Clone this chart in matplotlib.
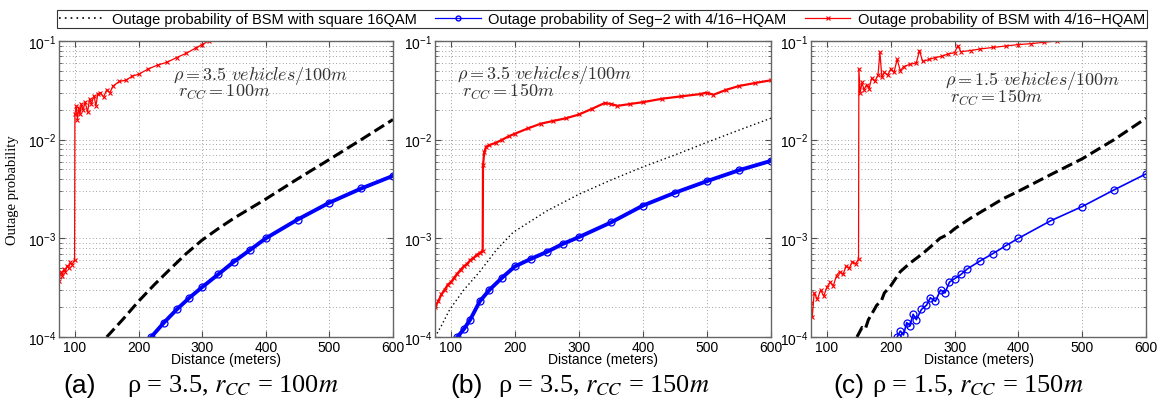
import matplotlib
matplotlib.use("Agg")
import matplotlib.pyplot as plt
from matplotlib.lines import Line2D
from matplotlib.ticker import FixedLocator, LogLocator, NullFormatter

plt.rcParams["font.family"] = ["Liberation Sans", "DejaVu Sans"]

# ---------------- data ----------------
# panel (a): rho = 3.5, r_CC = 100 m
red_a_x = [75, 78, 80, 83, 85, 88, 90, 93, 95, 99.5, 100, 102, 104, 106, 108, 110, 113, 116,
           120, 123, 126, 130, 133, 136, 140, 145, 150, 155, 160, 170, 180, 190, 200, 215,
           230, 245, 260, 275, 290, 300, 310]
red_a_y = [3.7e-4, 4.6e-4, 4.2e-4, 4.9e-4, 4.6e-4, 5.3e-4, 5.0e-4, 5.7e-4, 5.4e-4, 6.0e-4,
           1.8e-2, 2.2e-2, 1.6e-2, 2.1e-2, 1.8e-2, 2.3e-2, 2.0e-2, 2.4e-2, 1.9e-2, 2.6e-2,
           2.3e-2, 2.8e-2, 2.2e-2, 2.9e-2, 3.0e-2, 2.7e-2, 3.2e-2, 3.0e-2, 3.5e-2, 3.9e-2,
           4.0e-2, 4.4e-2, 4.6e-2, 5.2e-2, 5.7e-2, 6.1e-2, 6.8e-2, 7.5e-2, 8.5e-2, 9.2e-2, 1.0e-1]
blk_a_x = [150, 175, 200, 225, 250, 275, 300, 325, 350, 375, 400, 450, 500, 550, 600]
blk_a_y = [1.0e-4, 1.5e-4, 2.3e-4, 3.4e-4, 4.9e-4, 7.0e-4, 9.6e-4, 1.25e-3, 1.6e-3, 2.0e-3,
           2.5e-3, 4.0e-3, 6.3e-3, 1.0e-2, 1.6e-2]
blu_a_x = [220, 240, 260, 280, 300, 325, 350, 375, 400, 450, 500, 550, 600]
blu_a_y = [1.0e-4, 1.4e-4, 1.9e-4, 2.5e-4, 3.2e-4, 4.3e-4, 5.8e-4, 7.6e-4, 1.0e-3,
           1.55e-3, 2.3e-3, 3.2e-3, 4.3e-3]

# panel (b): rho = 3.5, r_CC = 150 m
red_b_x = [75, 80, 85, 90, 95, 100, 105, 110, 115, 120, 125, 130, 135, 140, 145, 149.5,
           150, 152, 155, 160, 170, 180, 190, 200, 220, 240, 260, 280, 300, 320, 340,
           350, 360, 380, 400, 430, 460, 490, 500, 510, 530, 550, 575, 600]
red_b_y = [2.0e-4, 2.3e-4, 2.7e-4, 3.0e-4, 3.4e-4, 3.6e-4, 4.0e-4, 4.4e-4, 4.8e-4, 5.2e-4,
           5.5e-4, 6.0e-4, 6.3e-4, 6.8e-4, 7.1e-4, 7.5e-4, 5.5e-3, 7.5e-3, 8.5e-3, 8.8e-3,
           9.3e-3, 1.0e-2, 1.08e-2, 1.15e-2, 1.3e-2, 1.45e-2, 1.55e-2, 1.65e-2, 1.8e-2,
           2.05e-2, 2.35e-2, 2.3e-2, 2.2e-2, 2.3e-2, 2.4e-2, 2.6e-2, 2.75e-2, 2.9e-2,
           3.0e-2, 2.85e-2, 3.2e-2, 3.5e-2, 3.75e-2, 4.0e-2]
blk_b_x = [75, 85, 98, 120, 145, 170, 197, 250, 300, 350, 400, 450, 500, 550, 600]
blk_b_y = [1.0e-4, 1.3e-4, 1.9e-4, 3.0e-4, 4.6e-4, 7.5e-4, 1.15e-3, 1.9e-3, 2.8e-3,
           3.9e-3, 5.3e-3, 7.0e-3, 9.4e-3, 1.25e-2, 1.65e-2]
blu_b_x = [110, 120, 130, 145, 160, 180, 200, 225, 250, 275, 300, 350, 400, 450, 500, 550, 600]
blu_b_y = [1.0e-4, 1.2e-4, 1.5e-4, 2.3e-4, 3.0e-4, 4.0e-4, 5.2e-4, 6.2e-4, 7.3e-4, 8.8e-4,
           1.03e-3, 1.45e-3, 2.15e-3, 2.9e-3, 3.8e-3, 4.9e-3, 6.1e-3]

# panel (c): rho = 1.5, r_CC = 150 m
red_c_x = [75, 77, 80, 85, 90, 95, 100, 105, 110, 115, 120, 125, 130, 135, 140, 145, 149.5,
           150, 152, 155, 158, 162, 166, 170, 175, 180, 183, 186, 190, 195, 200, 205, 210,
           215, 220, 230, 240, 245, 250, 260, 270, 280, 290, 300, 305, 310, 325, 340, 360,
           380, 400, 420, 440, 460]
red_c_y = [2.2e-4, 1.6e-4, 2.8e-4, 2.4e-4, 3.0e-4, 2.6e-4, 3.2e-4, 3.6e-4, 3.3e-4, 4.2e-4,
           4.6e-4, 4.3e-4, 5.2e-4, 5.0e-4, 5.8e-4, 5.5e-4, 6.2e-4, 5.2e-2, 3.0e-2, 3.8e-2,
           3.2e-2, 3.6e-2, 3.3e-2, 4.2e-2, 3.9e-2, 4.5e-2, 7.7e-2, 4.3e-2, 4.8e-2, 4.5e-2,
           5.2e-2, 4.8e-2, 6.5e-2, 5.0e-2, 5.5e-2, 5.8e-2, 6.0e-2, 8.0e-2, 6.2e-2, 6.5e-2,
           6.8e-2, 7.0e-2, 7.4e-2, 7.6e-2, 9.0e-2, 7.8e-2, 8.0e-2, 8.3e-2, 8.6e-2, 8.9e-2,
           9.2e-2, 9.4e-2, 9.7e-2, 1.0e-1]
blk_c_x = [147, 155, 160, 165, 170, 178, 185, 190, 200, 215, 230, 250, 265, 277, 290, 300,
           325, 350, 375, 400, 450, 500, 550, 600]
blk_c_y = [1.0e-4, 1.25e-4, 1.2e-4, 1.5e-4, 1.7e-4, 2.1e-4, 2.3e-4, 2.8e-4, 3.3e-4, 4.6e-4,
           5.6e-4, 7.0e-4, 8.5e-4, 1.0e-3, 1.1e-3, 1.25e-3, 1.6e-3, 2.0e-3, 2.5e-3, 3.0e-3,
           4.4e-3, 6.4e-3, 1.0e-2, 1.65e-2]
blu_c_x = [210, 215, 220, 225, 230, 235, 240, 248, 256, 262, 270, 278, 285, 292, 300, 310,
           320, 340, 360, 380, 400, 450, 500, 550, 600]
blu_c_y = [1.0e-4, 1.15e-4, 1.05e-4, 1.4e-4, 1.3e-4, 1.7e-4, 1.5e-4, 1.9e-4, 2.1e-4, 2.5e-4,
           2.3e-4, 3.0e-4, 2.8e-4, 3.6e-4, 3.9e-4, 4.3e-4, 4.9e-4, 5.9e-4, 7.0e-4, 8.4e-4,
           1.0e-3, 1.5e-3, 2.1e-3, 3.1e-3, 4.5e-3]

legend_labels = ["Outage probability of BSM with square 16QAM",
                 "Outage probability of Seg\u22122 with 4/16\u2212HQAM",
                 "Outage probability of BSM with 4/16\u2212HQAM"]
x_ticks = [100, 200, 300, 400, 500, 600]
captions = [("(a)", "\u03c1 = 3.5, $r_{CC}$ = 100$m$"),
            ("(b)", "\u03c1 = 3.5, $r_{CC}$ = 150$m$"),
            ("(c)", "\u03c1 = 1.5, $r_{CC}$ = 150$m$")]
notes = ["$\\rho = 3.5\\ vehicles/100m$\n$\\ r_{CC} = 100m$",
         "$\\rho = 3.5\\ vehicles/100m$\n$\\ r_{CC} = 150m$",
         "$\\rho = 1.5\\ vehicles/100m$\n$\\ r_{CC} = 150m$"]

panels = [
    (red_a_x, red_a_y, blk_a_x, blk_a_y, blu_a_x, blu_a_y),
    (red_b_x, red_b_y, blk_b_x, blk_b_y, blu_b_x, blu_b_y),
    (red_c_x, red_c_y, blk_c_x, blk_c_y, blu_c_x, blu_c_y),
]

# ---------------- layout (pixels of a 1164x406 canvas) ----------------
W, H = 1164, 406
fig = plt.figure(figsize=(W / 100, H / 100), dpi=100)
ax_left = [59, 435, 811]
ax_width = [334, 336, 335]
ax_top, ax_bot = 42, 338
note_pos = [(173, 65), (457, 64), (945, 70)]
cap_pos = [(63, 127), (450, 498), (833, 872)]
black_style = ["--", (0, (1, 2)), "--"]
black_lw = [2.2, 1.0, 2.2]
blue_lw = [2.8, 2.8, 1.2]
red_lw = [0.9, 1.6, 0.9]


def fx(px):
    return px / W


def fy(py):
    return 1 - py / H


for i, (rx, ry, kx, ky, bx, by) in enumerate(panels):
    ax = fig.add_axes([fx(ax_left[i]), fy(ax_bot), ax_width[i] / W, (ax_bot - ax_top) / H])
    ax.plot(kx, ky, color="black", linestyle=black_style[i], lw=black_lw[i])
    ax.plot(bx, by, color="blue", lw=blue_lw[i], marker="o", ms=5, mfc="none",
            mec="blue", mew=0.9)
    ax.plot(rx, ry, color="red", lw=red_lw[i], marker="x", ms=3.5, mew=0.8)

    ax.set_yscale("log")
    ax.set_xlim(75, 600)
    ax.set_ylim(1e-4, 1e-1)
    ax.xaxis.set_major_locator(FixedLocator(x_ticks))
    ax.yaxis.set_major_locator(LogLocator(base=10, numticks=10))
    ax.yaxis.set_minor_locator(LogLocator(base=10, subs=range(2, 10), numticks=20))
    ax.yaxis.set_minor_formatter(NullFormatter())
    ax.tick_params(which="both", direction="in", top=True, right=True,
                   labelsize=10, pad=2, color="0.3")
    ax.tick_params(which="major", length=4)
    ax.tick_params(which="minor", length=2)
    ax.grid(True, which="major", axis="x", color="0.5", lw=0.6, linestyle=(0, (1, 3)))
    ax.grid(True, which="both", axis="y", color="0.5", lw=0.6, linestyle=(0, (1, 3)))
    for s in ax.spines.values():
        s.set_color("0.4")
        s.set_linewidth(1.0)
    ax.set_xlabel("Distance (meters)", fontsize=10, labelpad=-1)
    if i == 0:
        ax.set_ylabel("Outage probability", fontsize=10.5, family="Liberation Serif")
        ax.yaxis.set_label_coords((19 - 59) / 334, 0.5)

    # in-plot annotation (two lines in one text)
    nx, ny = note_pos[i]
    fig.text(fx(nx), fy(ny), notes[i], fontsize=13, color="#333333", ha="left",
             va="top", linespacing=0.72, math_fontfamily="cm")

    # caption below panel
    cx1, cx2 = cap_pos[i]
    fig.text(fx(cx1), fy(386), captions[i][0], fontsize=19, ha="left", va="center",
             family="Liberation Sans")
    fig.text(fx(cx2), fy(386), captions[i][1], fontsize=19, ha="left", va="center",
             family="Liberation Serif", math_fontfamily="stix")

handles = [
    Line2D([], [], color="black", linestyle=(0, (1, 2.5)), lw=1.2),
    Line2D([], [], color="blue", lw=0.9, marker="o", ms=3.5, mfc="none"),
    Line2D([], [], color="red", lw=0.9, marker="x", ms=3, mew=0.8),
]
leg = fig.legend(handles, legend_labels, ncol=3, mode="expand", fontsize=10.5,
                 loc="lower left",
                 bbox_to_anchor=(fx(57), fy(29), (1147 - 57) / W, 20 / H),
                 frameon=True, fancybox=False, edgecolor="black", handlelength=3.1,
                 borderaxespad=0, borderpad=0.15, handletextpad=0.5, columnspacing=1.0)
leg.get_frame().set_linewidth(0.8)

fig.savefig("out.png", dpi=100)
